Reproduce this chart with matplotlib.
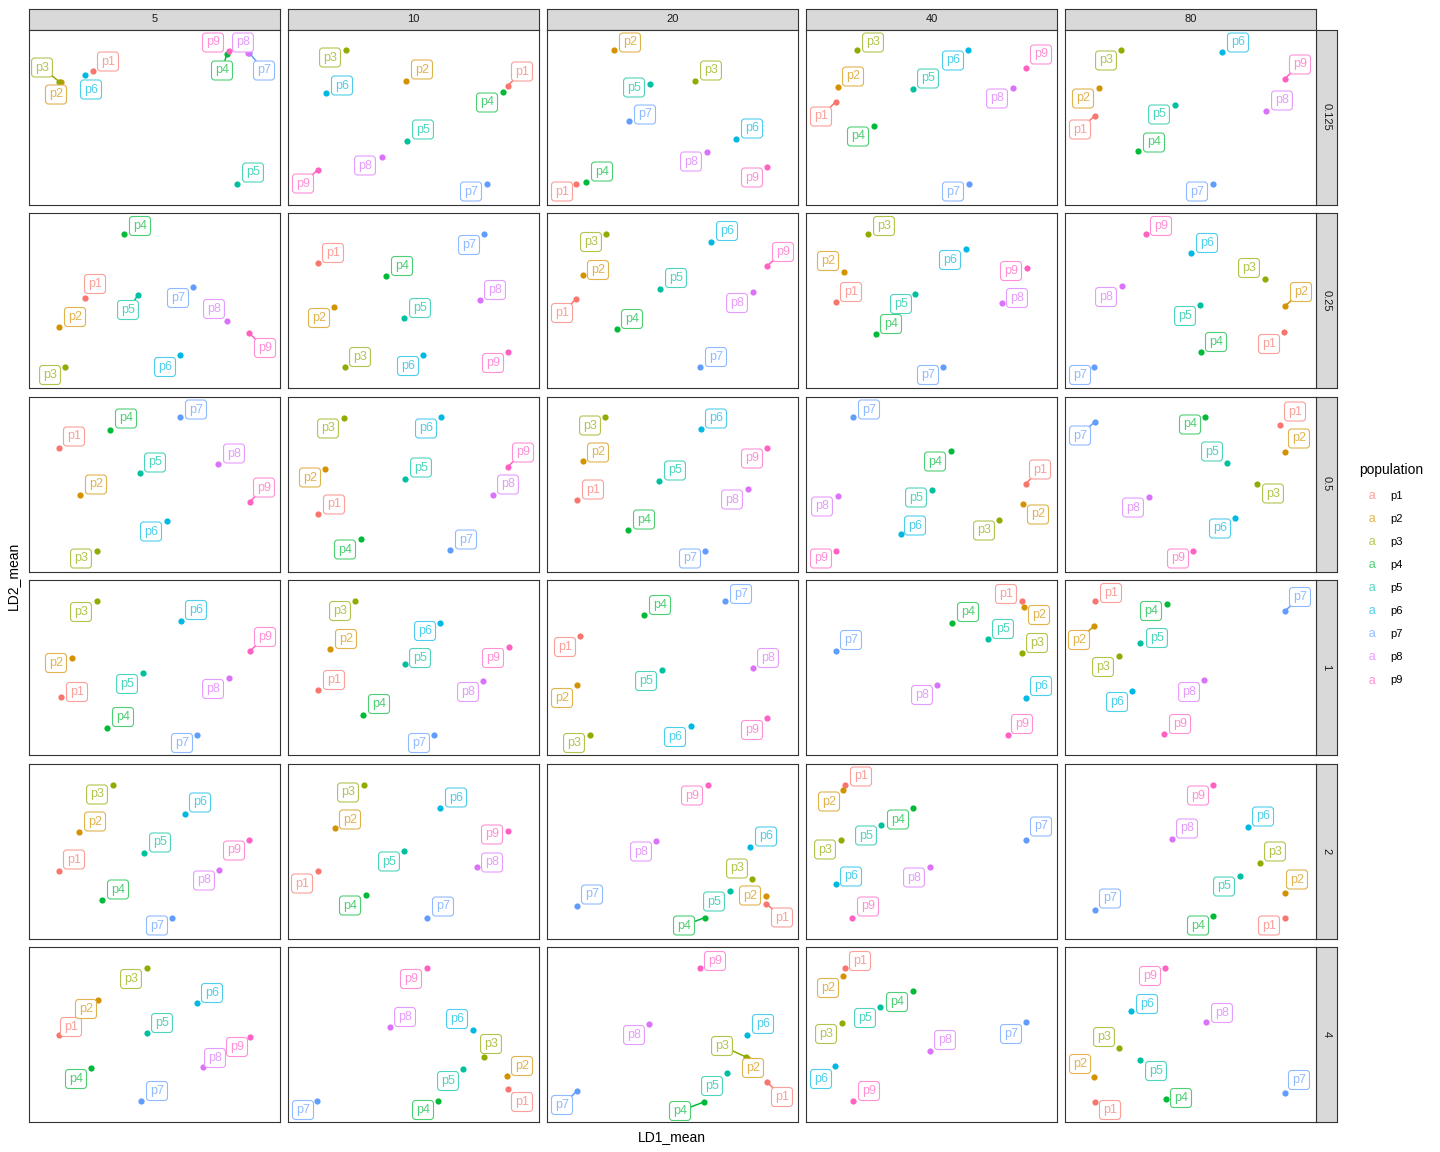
import matplotlib
matplotlib.use('Agg')
import matplotlib.pyplot as plt
from matplotlib.lines import Line2D
import numpy as np

plt.rcParams['font.family'] = ['Liberation Sans', 'DejaVu Sans']

# facets
col_levels = ['5', '10', '20', '40', '80']
row_levels = ['0.125', '0.25', '0.5', '1', '2', '4']

populations = ['p1', 'p2', 'p3', 'p4', 'p5', 'p6', 'p7', 'p8', 'p9']
pop_colors = ['#F8766D', '#D39200', '#93AA00', '#00BA38', '#00C19F',
              '#00B9E3', '#619CFF', '#DB72FB', '#FF61C3']

# LD means per facet (row -> one list per column, p1..p9), panel units
ld1_mean = {
    '0.125': [[64, 32, 30, 198, 208, 56, 220, 219, 200],
              [220, 118, 58, 215, 119, 38, 199, 94, 30],
              [29, 67, 148, 39, 103, 189, 82, 160, 220],
              [30, 32, 51, 68, 107, 162, 163, 207, 220],
              [30, 34, 56, 73, 110, 157, 148, 201, 220]],
    '0.25': [[56, 30, 36, 95, 109, 151, 164, 198, 220],
             [30, 46, 57, 98, 116, 135, 196, 192, 220],
             [29, 36, 59, 70, 113, 164, 153, 206, 220],
             [30, 38, 62, 70, 109, 160, 137, 196, 221],
             [219, 220, 200, 136, 135, 126, 29, 57, 81]],
    '0.5': [[30, 51, 68, 81, 111, 138, 151, 189, 221],
            [30, 37, 56, 73, 117, 153, 162, 205, 220],
            [30, 36, 58, 81, 112, 154, 158, 201, 220],
            [220, 217, 193, 145, 126, 95, 47, 32, 30],
            [215, 220, 192, 140, 162, 170, 30, 84, 128]],
    '1': [[32, 43, 68, 78, 114, 152, 168, 200, 221],
          [30, 42, 67, 75, 117, 152, 146, 195, 221],
          [33, 30, 43, 97, 115, 144, 178, 206, 220],
          [216, 218, 216, 146, 182, 220, 30, 131, 202],
          [30, 29, 54, 102, 75, 67, 220, 139, 99]],
    '2': [[30, 50, 84, 73, 115, 156, 143, 190, 220],
          [30, 47, 76, 78, 116, 152, 139, 189, 220],
          [219, 219, 205, 158, 183, 203, 30, 109, 161],
          [39, 37, 35, 107, 75, 30, 220, 124, 46],
          [220, 220, 195, 148, 175, 183, 30, 107, 148]],
    '4': [[30, 69, 118, 62, 118, 168, 112, 174, 221],
          [220, 219, 196, 150, 175, 185, 29, 102, 139],
          [220, 201, 199, 157, 180, 200, 30, 102, 153],
          [39, 37, 36, 107, 74, 29, 220, 124, 47],
          [30, 29, 54, 101, 75, 66, 220, 141, 100]],
}
ld2_mean = {
    '0.125': [[134, 123, 123, 151, 21, 130, 152, 152, 154],
              [119, 124, 155, 113, 64, 112, 21, 48, 35],
              [21, 155, 124, 23, 121, 66, 84, 53, 38],
              [103, 118, 155, 79, 116, 155, 21, 117, 137],
              [89, 117, 155, 54, 100, 153, 21, 94, 126]],
    '0.25': [[90, 61, 21, 154, 93, 33, 101, 67, 55],
             [125, 81, 21, 112, 70, 33, 154, 88, 36],
             [89, 113, 154, 59, 99, 146, 21, 96, 122],
             [86, 116, 154, 54, 94, 139, 21, 85, 120],
             [56, 82, 109, 36, 83, 135, 21, 102, 154]],
    '0.5': [[124, 77, 21, 142, 99, 51, 155, 108, 70],
            [58, 103, 154, 33, 93, 155, 22, 77, 105],
            [72, 111, 155, 42, 91, 143, 21, 83, 124],
            [88, 68, 52, 121, 82, 38, 155, 76, 21],
            [147, 120, 88, 155, 109, 54, 150, 75, 21]],
    '1': [[58, 97, 154, 27, 82, 134, 20, 77, 104],
          [65, 106, 154, 40, 91, 132, 20, 74, 108],
          [119, 70, 20, 140, 85, 29, 154, 87, 37],
          [154, 148, 102, 132, 116, 57, 104, 70, 20],
          [154, 129, 99, 151, 112, 64, 144, 75, 21]],
    '2': [[68, 107, 154, 39, 86, 125, 21, 69, 99],
          [68, 111, 154, 44, 88, 131, 21, 72, 108],
          [35, 43, 60, 21, 48, 92, 33, 98, 154],
          [154, 149, 99, 131, 114, 55, 99, 72, 21],
          [21, 46, 76, 23, 63, 112, 29, 100, 154]],
    '4': [[87, 122, 154, 54, 89, 119, 21, 55, 85],
          [33, 46, 65, 21, 53, 92, 21, 95, 154],
          [40, 63, 65, 20, 49, 87, 31, 98, 154],
          [154, 146, 99, 131, 115, 56, 100, 71, 21],
          [20, 45, 74, 23, 62, 111, 29, 100, 154]],
}

# where the repelled labels ended up
label_x = {
    '0.125': [[79, 27, 13, 193, 224, 62, 235, 214, 184],
              [234, 134, 42, 199, 135, 54, 183, 77, 15],
              [15, 83, 164, 55, 87, 205, 98, 144, 205],
              [15, 47, 67, 52, 122, 147, 147, 191, 235],
              [15, 18, 41, 89, 94, 173, 132, 217, 235]],
    '0.25': [[66, 46, 21, 111, 99, 136, 149, 185, 236],
             [45, 31, 72, 114, 132, 120, 181, 207, 205],
             [15, 51, 44, 85, 129, 180, 169, 190, 236],
             [45, 22, 78, 85, 95, 144, 122, 211, 205],
             [204, 236, 184, 151, 120, 142, 15, 41, 96]],
    '0.5': [[45, 67, 52, 97, 126, 122, 167, 205, 235],
            [46, 22, 40, 57, 133, 138, 178, 220, 235],
            [46, 51, 43, 97, 128, 169, 143, 185, 205],
            [234, 232, 178, 129, 110, 109, 63, 16, 15],
            [230, 234, 208, 125, 147, 155, 15, 68, 113]],
    '1': [[48, 27, 52, 94, 98, 167, 153, 184, 236],
          [46, 58, 52, 91, 132, 137, 131, 180, 205],
          [18, 15, 27, 113, 99, 128, 194, 221, 205],
          [200, 233, 231, 162, 197, 235, 45, 116, 216],
          [46, 14, 38, 86, 92, 52, 235, 124, 115]],
    '2': [[45, 66, 68, 89, 131, 171, 128, 175, 205],
          [14, 62, 60, 62, 101, 168, 155, 204, 204],
          [235, 203, 190, 137, 167, 219, 45, 94, 145],
          [55, 23, 19, 92, 60, 45, 235, 108, 62],
          [204, 232, 210, 133, 159, 198, 45, 122, 133]],
    '4': [[42, 57, 102, 47, 133, 183, 128, 186, 208],
          [234, 234, 203, 135, 160, 169, 15, 117, 123],
          [235, 206, 175, 133, 165, 216, 15, 87, 168],
          [54, 22, 20, 91, 59, 15, 205, 139, 63],
          [45, 15, 39, 116, 91, 82, 234, 157, 85]],
}
label_y = {
    '0.125': [[143, 110, 137, 134, 32, 115, 134, 162, 162],
              [133, 135, 147, 102, 75, 119, 13, 39, 21],
              [13, 162, 134, 33, 117, 76, 90, 43, 27],
              [88, 128, 162, 68, 126, 144, 13, 106, 150],
              [75, 106, 144, 62, 90, 162, 13, 104, 140]],
    '0.25': [[104, 71, 13, 162, 78, 21, 90, 79, 40],
             [135, 70, 31, 122, 80, 22, 143, 98, 25],
             [75, 118, 146, 69, 110, 157, 31, 85, 136],
             [96, 127, 162, 64, 84, 128, 13, 90, 117],
             [44, 96, 120, 46, 72, 145, 13, 91, 162]],
    '0.5': [[135, 87, 13, 153, 109, 40, 162, 118, 84],
            [67, 94, 143, 22, 104, 143, 32, 87, 119],
            [82, 119, 146, 52, 101, 153, 13, 72, 113],
            [102, 57, 41, 110, 74, 46, 162, 65, 13],
            [160, 133, 78, 147, 120, 43, 136, 64, 13]],
    '1': [[63, 92, 143, 38, 71, 145, 12, 66, 118],
          [75, 116, 144, 51, 97, 124, 12, 63, 97],
          [108, 57, 12, 150, 74, 18, 161, 97, 25],
          [161, 140, 112, 143, 126, 69, 115, 60, 31],
          [162, 115, 88, 144, 117, 53, 158, 63, 31]],
    '2': [[79, 117, 144, 49, 96, 136, 13, 58, 88],
          [55, 119, 146, 33, 77, 141, 32, 76, 104],
          [21, 43, 70, 13, 37, 102, 44, 87, 143],
          [162, 137, 89, 119, 103, 62, 112, 61, 32],
          [13, 59, 87, 13, 52, 122, 40, 110, 143]],
    '4': [[95, 113, 143, 43, 99, 129, 31, 64, 75],
          [20, 56, 78, 12, 41, 103, 12, 105, 143],
          [25, 54, 76, 11, 36, 98, 17, 87, 161],
          [161, 134, 88, 120, 104, 43, 88, 82, 31],
          [12, 58, 85, 24, 51, 118, 42, 109, 146]],
}

W, H = 1440, 1152
fig = plt.figure(figsize=(W / 100, H / 100), dpi=100)


def px_axes(x, y, w, h):
    return fig.add_axes([x / W, 1 - (y + h) / H, w / W, h / H])


def lighten(c, amt=0.3):
    rgb = np.array(matplotlib.colors.to_rgb(c))
    return tuple(rgb * (1 - amt) + amt)


def needs_segment(px, py, lx, ly, pw, ph, hw=11, hh=8.5, min_len=7.1):
    # same test ggrepel uses: point -> box edge along the line to the centre,
    # compared with min.segment.length in panel-native units
    vx, vy = px - lx, py - ly
    t = min(hw / abs(vx) if vx else np.inf, hh / abs(vy) if vy else np.inf)
    if t >= 1:
        return False
    dxn = abs(vx) * (1 - t) / pw
    dyn = abs(vy) * (1 - t) / ph
    d = np.hypot(dxn, dyn)
    m = np.hypot(min_len / pw * dxn / d, min_len / ph * dyn / d)
    return d > m


edge = '#333333'
strip_fc = '#D9D9D9'
x0, y0, pw, ph = 29, 29.5, 251, 175
gx, gy = 259, 183.5

for j, cv in enumerate(col_levels):
    sax = px_axes(x0 + j * gx, 8.5, pw, 21)
    sax.set_facecolor(strip_fc)
    sax.set_xticks([]); sax.set_yticks([])
    for s in sax.spines.values():
        s.set_color(edge); s.set_linewidth(0.8)
    sax.text(0.5, 0.5, cv, ha='center', va='center', fontsize=8, color='#1A1A1A')

for i, rv in enumerate(row_levels):
    sax = px_axes(x0 + 4 * gx + pw, y0 + i * gy, 21, ph)
    sax.set_facecolor(strip_fc)
    sax.set_xticks([]); sax.set_yticks([])
    for s in sax.spines.values():
        s.set_color(edge); s.set_linewidth(0.8)
    sax.text(0.5, 0.5, rv, ha='center', va='center', fontsize=8,
             color='#1A1A1A', rotation=-90)

    for j, cv in enumerate(col_levels):
        ax = px_axes(x0 + j * gx, y0 + i * gy, pw, ph)
        ax.set_xlim(0, pw)
        ax.set_ylim(0, ph)
        ax.set_xticks([]); ax.set_yticks([])
        for s in ax.spines.values():
            s.set_color(edge); s.set_linewidth(0.8)
        xs, ys = ld1_mean[rv][j], ld2_mean[rv][j]
        lxs, lys = label_x[rv][j], label_y[rv][j]
        for k, pop in enumerate(populations):
            c = pop_colors[k]
            ax.scatter(xs[k], ys[k], s=20, color=c, zorder=3, linewidths=0)
            if needs_segment(xs[k], ys[k], lxs[k], lys[k], pw, ph):
                ax.plot([xs[k], lxs[k]], [ys[k], lys[k]], color=c, lw=1.1, zorder=2)
            lc = lighten(c)
            ax.text(lxs[k], lys[k], pop, color=lc, fontsize=9, ha='center',
                    va='center', zorder=4, clip_on=False,
                    bbox=dict(boxstyle='round,pad=0.28,rounding_size=0.25',
                              fc='white', ec=lc, lw=0.8))

fig.text(672 / W, 1 - 1137 / H, 'LD1_mean', ha='center', va='center', fontsize=10)
fig.text(13 / W, 1 - 576 / H, 'LD2_mean', ha='center', va='center',
         fontsize=10, rotation=90)

handles = [Line2D([0], [0], ls='', marker=r'$\mathregular{a}$', markersize=5,
                  color=lighten(c), markeredgewidth=0) for c in pop_colors]
fig.legend(handles, populations, title='population', loc='upper left',
           bbox_to_anchor=(1355 / W, 1 - 459 / H), frameon=False, fontsize=8,
           title_fontsize=10, labelspacing=1.18, handlelength=2.2,
           handletextpad=0.6, borderaxespad=0, alignment='left')

fig.savefig('out.png', dpi=100)
